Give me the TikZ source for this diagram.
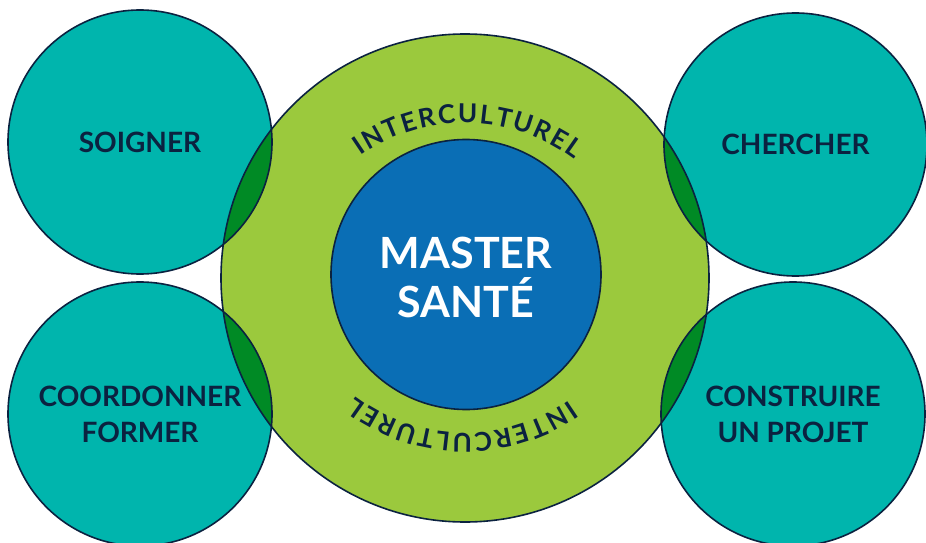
\documentclass[tikz,border=0pt]{standalone}
\usepackage{fontspec}
\setmainfont{Lato}
\usetikzlibrary{decorations.text}
\definecolor{teal1}{HTML}{00B5AD}
\definecolor{lime1}{HTML}{9BC93D}
\definecolor{lens1}{HTML}{008A25}
\definecolor{blue1}{HTML}{0A6EB5}
\definecolor{navy1}{HTML}{0B2240}
\begin{document}
\begin{tikzpicture}[x=1pt,y=1pt,
  outl/.style={draw=navy1, line width=1.6pt},
  sat/.style={circle, inner sep=0pt, minimum size=264pt, fill=teal1, text=navy1,
    font=\bfseries\fontsize{28}{36}\selectfont, align=center},
  arctext/.style={decorate, decoration={text along path, text align=fit to path,
    text={|\fontsize{26}{30}\selectfont\bfseries\color{navy1}|INTERCULTUREL}}}
]
\useasboundingbox (0,0) rectangle (926,542);
\clip (0,0) rectangle (926,542);
\fill[white] (0,0) rectangle (926,542);
\coordinate (g) at (465,264);
\fill[lime1] (g) circle[radius=244pt];
\node[sat] (soigner) at (140,400) {SOIGNER};
\node[sat, minimum size=263pt] (chercher) at (795.5,397.5) {CHERCHER};
\node[sat] (former) at (140,128) {COORDONNER\\FORMER};
\node[sat] (projet) at (793,128) {CONSTRUIRE\\UN PROJET};
\begin{scope}
  \clip (g) circle[radius=244pt];
  \fill[lens1] (soigner.center) circle[radius=132pt];
  \fill[lens1] (chercher.center) circle[radius=131.5pt];
  \fill[lens1] (former.center) circle[radius=132pt];
  \fill[lens1] (projet.center) circle[radius=132pt];
\end{scope}
\draw[outl] (g) circle[radius=244pt];
\draw[outl] (soigner.center) circle[radius=132pt];
\draw[outl] (chercher.center) circle[radius=131.5pt];
\draw[outl] (former.center) circle[radius=132pt];
\draw[outl] (projet.center) circle[radius=132pt];
\node[circle, inner sep=0pt, minimum size=270pt, fill=blue1, draw=navy1, line width=1.6pt] (master) at (466,267.5) {};
\node[text=white, align=center, font=\bfseries\fontsize{43}{49}\selectfont] (mastertext) at (466,265) {MASTER\\SANTÉ};
\path[arctext] (465,237) ++(125:182pt) arc[start angle=125, end angle=53, radius=182pt];
\path[arctext] (465,291) ++(-55:182pt) arc[start angle=-55, end angle=-127, radius=182pt];
\end{tikzpicture}
\end{document}
